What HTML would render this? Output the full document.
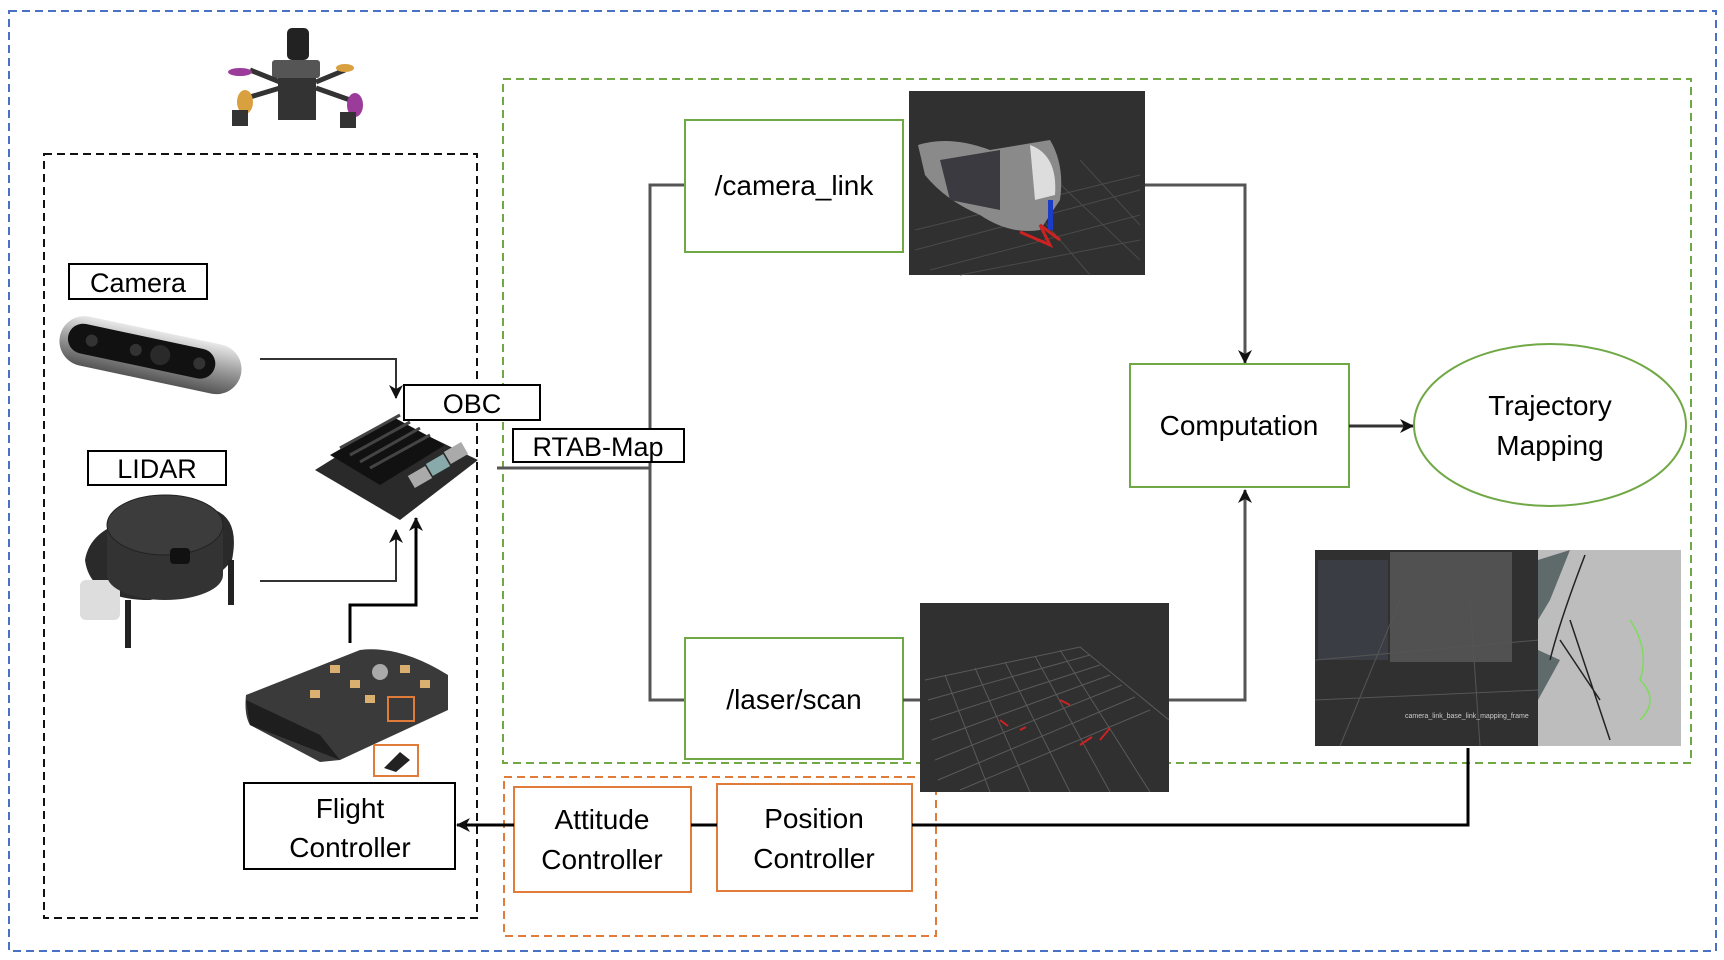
<!DOCTYPE html>
<html><head><meta charset="utf-8"><style>
html,body{margin:0;padding:0;background:#fff;}
svg{display:block;}
text{font-family:"Liberation Sans",sans-serif;fill:#000;}
</style></head><body>
<svg width="1724" height="960" viewBox="0 0 1724 960" xmlns="http://www.w3.org/2000/svg">
<defs>
<marker id="ah" markerWidth="14" markerHeight="14" refX="13" refY="7" orient="auto" markerUnits="userSpaceOnUse">
<path d="M0,0 L14,7 L0,14 L4,7 z" fill="#111"/></marker>
<linearGradient id="cam" x1="0" y1="0" x2="0" y2="1"><stop offset="0" stop-color="#e8e8e8"/><stop offset="0.5" stop-color="#9a9a9a"/><stop offset="1" stop-color="#555"/></linearGradient>
</defs>
<rect x="9" y="11" width="1707" height="940" fill="none" stroke="#4a72c4" stroke-width="2" stroke-dasharray="8,5"/>
<rect x="503" y="79" width="1188" height="684" fill="none" stroke="#70a845" stroke-width="2" stroke-dasharray="8,5"/>
<rect x="504" y="777" width="432" height="159" fill="none" stroke="#e07b39" stroke-width="2" stroke-dasharray="8,5"/>
<rect x="44" y="154" width="433" height="764" fill="none" stroke="#111" stroke-width="2" stroke-dasharray="8,5"/>

<g>
<rect x="287" y="28" width="22" height="32" rx="5" fill="#222"/>
<rect x="272" y="60" width="48" height="18" rx="3" fill="#555"/>
<rect x="278" y="78" width="38" height="42" fill="#333"/>
<path d="M240,100 L280,88 M316,88 L350,100 M250,70 L280,82 M316,82 L345,70" stroke="#333" stroke-width="5"/>
<ellipse cx="240" cy="72" rx="12" ry="4" fill="#9b3c9b"/><ellipse cx="345" cy="68" rx="9" ry="4" fill="#d9a040"/>
<ellipse cx="245" cy="102" rx="8" ry="12" fill="#d9a040"/><ellipse cx="355" cy="105" rx="8" ry="12" fill="#9b3c9b"/>
<rect x="232" y="110" width="16" height="16" fill="#333"/><rect x="340" y="112" width="16" height="16" fill="#333"/>
</g>

<rect x="69" y="264" width="138" height="35" fill="#fff" stroke="#000" stroke-width="2"/>
<text x="138" y="292" font-size="27" text-anchor="middle">Camera</text>
<g transform="rotate(12 150 355)">
<rect x="58" y="330" width="185" height="50" rx="25" fill="url(#cam)"/>
<rect x="66" y="338" width="150" height="30" rx="15" fill="#111"/>
<circle cx="90" cy="353" r="6" fill="#333"/><circle cx="135" cy="353" r="6" fill="#333"/><circle cx="160" cy="353" r="10" fill="#2a2a2a"/><circle cx="200" cy="353" r="6" fill="#333"/>
</g>

<rect x="88" y="451" width="138" height="34" fill="#fff" stroke="#000" stroke-width="2"/>
<text x="157" y="478" font-size="27" text-anchor="middle">LIDAR</text>
<g>
<path d="M85,560 Q90,530 130,520 L215,510 Q240,520 232,560 Q210,590 150,600 Q90,600 85,560z" fill="#2a2a2a"/>
<rect x="80" y="580" width="40" height="40" rx="6" fill="#ddd"/>
<ellipse cx="165" cy="525" rx="58" ry="30" fill="#333"/>
<rect x="107" y="525" width="116" height="50" fill="#333"/>
<ellipse cx="165" cy="575" rx="58" ry="25" fill="#333"/>
<ellipse cx="165" cy="525" rx="58" ry="30" fill="#3c3c3c" stroke="#222"/>
<rect x="170" y="548" width="20" height="16" rx="4" fill="#111"/>
<rect x="125" y="600" width="6" height="48" fill="#222"/><rect x="228" y="560" width="6" height="45" fill="#222"/>
</g>

<g>
<path d="M315,470 L395,420 L478,460 L400,520 z" fill="#2a2a2a"/>
<path d="M330,455 L395,418 L445,445 L380,485 z" fill="#111"/>
<path d="M340,448 L400,415 M350,455 L410,422 M360,462 L420,428 M370,468 L430,435" stroke="#444" stroke-width="3"/>
<rect x="410" y="470" width="20" height="14" fill="#aaa" transform="rotate(-30 420 477)"/>
<rect x="428" y="458" width="20" height="14" fill="#8aa" transform="rotate(-30 438 465)"/>
<rect x="446" y="446" width="20" height="14" fill="#aaa" transform="rotate(-30 456 453)"/>
</g>
<rect x="404" y="385" width="136" height="35" fill="#fff" stroke="#000" stroke-width="2"/>
<text x="472" y="413" font-size="27" text-anchor="middle">OBC</text>

<g>
<path d="M246,695 L360,650 Q400,645 448,675 L448,710 L340,760 L320,762 L250,725 Q244,715 246,695z" fill="#3a3a3a"/>
<path d="M246,700 L320,735 L340,760 L250,725z" fill="#1e1e1e"/>
<circle cx="380" cy="672" r="8" fill="#aaa"/>
<g fill="#d9b070"><rect x="330" y="665" width="10" height="8"/><rect x="350" y="680" width="10" height="8"/><rect x="400" y="665" width="10" height="8"/><rect x="310" y="690" width="10" height="8"/><rect x="365" y="695" width="10" height="8"/><rect x="420" y="680" width="10" height="8"/></g>
<rect x="388" y="697" width="26" height="24" fill="none" stroke="#e07b39" stroke-width="2"/>
<rect x="374" y="745" width="44" height="31" fill="#fff" stroke="#e07b39" stroke-width="2"/>
<path d="M384,768 L400,752 L410,760 L396,772z" fill="#222"/>
</g>

<rect x="244" y="783" width="211" height="86" fill="#fff" stroke="#000" stroke-width="2"/>
<text x="350" y="818" font-size="28" text-anchor="middle">Flight</text>
<text x="350" y="857" font-size="28" text-anchor="middle">Controller</text>

<polyline points="260,359 396,359 396,398" fill="none" stroke="#333" stroke-width="2" marker-end="url(#ah)"/>
<polyline points="260,581 396,581 396,530" fill="none" stroke="#333" stroke-width="2" marker-end="url(#ah)"/>
<polyline points="350,643 350,605 416,605 416,518" fill="none" stroke="#000" stroke-width="3" marker-end="url(#ah)"/>

<polyline points="497,468 650,468" fill="none" stroke="#555" stroke-width="3"/>
<polyline points="685,185 650,185 650,700 685,700" fill="none" stroke="#555" stroke-width="3"/>
<rect x="513" y="429" width="171" height="33" fill="#fff" stroke="#000" stroke-width="2"/>
<text x="598" y="456" font-size="27" text-anchor="middle">RTAB-Map</text>

<rect x="685" y="120" width="218" height="132" fill="#fff" stroke="#70a845" stroke-width="2"/>
<text x="794" y="195" font-size="28" text-anchor="middle">/camera_link</text>
<rect x="909" y="91" width="236" height="184" fill="#303030"/>
<g stroke="#4a4a4a" stroke-width="1">
<path d="M915,250 L1140,190 M915,230 L1140,175 M930,270 L1140,215 M960,275 L1140,240 M1000,170 L1090,275 M1040,165 L1140,260 M1080,160 L1140,225"/>
</g>
<path d="M918,145 Q950,135 990,150 L1050,140 Q1065,165 1060,200 L1040,230 Q1010,235 980,215 Q945,200 925,175 z" fill="#8a8a8a"/>
<path d="M940,160 L1000,150 L1000,210 L950,200z" fill="#3a3a40"/>
<path d="M1030,145 Q1058,155 1055,195 L1035,200z" fill="#ddd"/>
<rect x="1048" y="200" width="5" height="30" fill="#1a3cc8"/>
<path d="M1020,232 L1050,245 L1040,225 L1060,240" stroke="#c22" stroke-width="3" fill="none"/>
<polyline points="1145,185 1245,185 1245,363" fill="none" stroke="#555" stroke-width="3" marker-end="url(#ah)"/>

<rect x="685" y="638" width="218" height="121" fill="#fff" stroke="#70a845" stroke-width="2"/>
<text x="794" y="709" font-size="28" text-anchor="middle">/laser/scan</text>
<polyline points="903,700 920,700" stroke="#555" stroke-width="3"/>
<rect x="920" y="603" width="249" height="189" fill="#303030"/>
<g stroke="#5a5a5a" stroke-width="1" fill="none">
<path d="M925,680 L1080,647 L1169,720 M928,700 L1090,655 M930,720 L1100,665 M932,740 L1110,675 M935,760 L1122,685 M938,780 L1135,697 M960,790 L1150,710"/>
<path d="M945,675 L990,792 M975,668 L1030,792 M1005,662 L1070,792 M1035,656 L1110,792 M1060,650 L1150,792"/>
</g>
<g stroke="#c22" stroke-width="2"><path d="M1000,720 l8,6 M1020,730 l6,-3 M1060,700 l10,5 M1080,745 l12,-8 M1100,740 l10,-12"/></g>
<polyline points="1169,700 1245,700 1245,490" fill="none" stroke="#555" stroke-width="3" marker-end="url(#ah)"/>

<rect x="1130" y="364" width="219" height="123" fill="#fff" stroke="#70a845" stroke-width="2"/>
<text x="1239" y="435" font-size="28" text-anchor="middle">Computation</text>
<polyline points="1349,426 1413,426" fill="none" stroke="#333" stroke-width="3" marker-end="url(#ah)"/>
<ellipse cx="1550" cy="425" rx="136" ry="81" fill="#fff" stroke="#70a845" stroke-width="2"/>
<text x="1550" y="415" font-size="28" text-anchor="middle">Trajectory</text>
<text x="1550" y="455" font-size="28" text-anchor="middle">Mapping</text>

<rect x="1315" y="550" width="224" height="196" fill="#303030"/>
<rect x="1390" y="552" width="122" height="110" fill="#5a5a5a" opacity="0.8"/>
<rect x="1318" y="560" width="70" height="100" fill="#3a3e44"/>
<g stroke="#555" stroke-width="1"><path d="M1315,660 L1539,640 M1315,700 L1539,690 M1340,746 L1400,600 M1480,746 L1470,600"/></g>
<text x="1405" y="718" font-size="7" style="fill:#ccc">camera_link_base_link_mapping_frame</text>
<rect x="1538" y="550" width="143" height="196" fill="#bdbdbd"/>
<path d="M1538,560 L1570,550 L1550,600 L1538,620z M1538,650 L1560,660 L1538,700z" fill="#5f6a6a"/>
<path d="M1585,555 Q1560,620 1550,660 M1560,640 L1600,700 M1570,620 L1610,740" stroke="#222" stroke-width="1.5" fill="none"/>
<path d="M1630,620 Q1650,650 1640,680 Q1660,700 1640,720" stroke="#7ddc5a" stroke-width="1.5" fill="none"/>

<rect x="514" y="787" width="177" height="105" fill="#fff" stroke="#e07b39" stroke-width="2"/>
<text x="602" y="829" font-size="28" text-anchor="middle">Attitude</text>
<text x="602" y="869" font-size="28" text-anchor="middle">Controller</text>
<rect x="717" y="784" width="195" height="107" fill="#fff" stroke="#e07b39" stroke-width="2"/>
<text x="814" y="828" font-size="28" text-anchor="middle">Position</text>
<text x="814" y="868" font-size="28" text-anchor="middle">Controller</text>
<polyline points="691,825 717,825" stroke="#000" stroke-width="3"/>
<polyline points="912,825 1468,825 1468,748" fill="none" stroke="#000" stroke-width="3"/>
<polyline points="514,825 457,825" fill="none" stroke="#000" stroke-width="3" marker-end="url(#ah)"/>
</svg>
</body></html>
